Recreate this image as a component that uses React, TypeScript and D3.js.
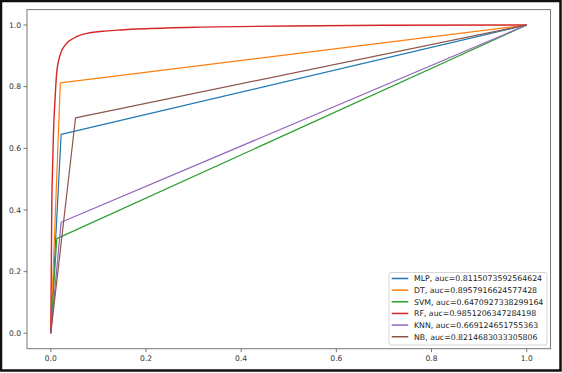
import React from "react";
import * as d3 from "d3";

const W = 562;
const H = 373;

const seriesNames = ["MLP", "DT", "SVM", "RF", "KNN", "NB"];
const aucLabels = [
  "0.8115073592564624",
  "0.8957916624577428",
  "0.6470927338299164",
  "0.9851206347284198",
  "0.669124651755363",
  "0.8214683033305806",
];
const colors = ["#1f77b4", "#ff7f0e", "#2ca02c", "#d62728", "#9467bd", "#8c564b"];

const mlpFpr = [0, 0.0217, 1];
const mlpTpr = [0, 0.645, 1];
const dtFpr = [0, 0.02, 1];
const dtTpr = [0, 0.812, 1];
const svmFpr = [0, 0.0126, 1];
const svmTpr = [0, 0.307, 1];
const rfFpr = [0, 0.001, 0.002, 0.004, 0.0055, 0.009, 0.0126, 0.0196, 0.03, 0.048, 0.076, 0.118, 0.146, 0.2, 0.314, 0.5, 0.7, 1];
const rfTpr = [0, 0.2, 0.4, 0.55, 0.643, 0.762, 0.849, 0.903, 0.935, 0.957, 0.973, 0.981, 0.984, 0.988, 0.993, 0.997, 0.999, 1];
const knnFpr = [0, 0.0217, 1];
const knnTpr = [0, 0.36, 1];
const nbFpr = [0, 0.052, 1];
const nbTpr = [0, 0.699, 1];

const fprs = [mlpFpr, dtFpr, svmFpr, rfFpr, knnFpr, nbFpr];
const tprs = [mlpTpr, dtTpr, svmTpr, rfTpr, knnTpr, nbTpr];

const ticks = [0, 0.2, 0.4, 0.6, 0.8, 1.0];

export default function App() {
  const x = d3.scaleLinear().domain([-0.05, 1.05]).range([27, 550.5]);
  const y = d3.scaleLinear().domain([-0.05, 1.05]).range([348.7, 9.6]);
  const line = d3
    .line<[number, number]>()
    .x((d) => x(d[0]))
    .y((d) => y(d[1]));
  const smooth = d3
    .line<[number, number]>()
    .x((d) => x(d[0]))
    .y((d) => y(d[1]))
    .curve(d3.curveMonotoneX);

  const font = "DejaVu Sans, sans-serif";
  const legX = 389;
  const legY = 272.5;
  return (
    <svg
      width={W}
      height={H}
      style={{ position: "absolute", left: 0, top: 0, background: "#fff" }}
      fontFamily={font}
    >
      <rect x={0} y={0} width={W} height={H} fill="#fff" />
      <rect x={1} y={1} width={559.5} height={369.5} fill="none" stroke="#111" strokeWidth={2.5} />
      {/* series */}
      {seriesNames.map((n, i) => {
        const pts = fprs[i].map((f, j) => [f, tprs[i][j]] as [number, number]);
        const gen = n === "RF" ? smooth : line;
        return (
          <path
            key={n}
            d={gen(pts) || ""}
            fill="none"
            stroke={colors[i]}
            strokeWidth={n === "RF" ? 1.4 : 1.2}
            strokeLinejoin="round"
          />
        );
      })}
      {/* axes frame */}
      <rect
        x={x(-0.05)}
        y={y(1.05)}
        width={x(1.05) - x(-0.05)}
        height={y(-0.05) - y(1.05)}
        fill="none"
        stroke="#777"
        strokeWidth={1}
      />
      {/* x ticks */}
      {ticks.map((t) => (
        <g key={"x" + t}>
          <line x1={x(t)} x2={x(t)} y1={y(-0.05)} y2={y(-0.05) + 3.5} stroke="#555" strokeWidth={0.8} />
          <text x={x(t)} y={y(-0.05) + 12} fontSize={7.6} textAnchor="middle" fill="#333">
            {t.toFixed(1)}
          </text>
        </g>
      ))}
      {/* y ticks */}
      {ticks.map((t) => (
        <g key={"y" + t}>
          <line x1={x(-0.05) - 3.5} x2={x(-0.05)} y1={y(t)} y2={y(t)} stroke="#555" strokeWidth={0.8} />
          <text x={x(-0.05) - 6} y={y(t) + 2.8} fontSize={7.6} textAnchor="end" fill="#333">
            {t.toFixed(1)}
          </text>
        </g>
      ))}
      {/* legend */}
      <rect
        x={legX}
        y={legY}
        width={158}
        height={72.5}
        rx={2}
        fill="#fff"
        fillOpacity={0.85}
        stroke="#ccc"
        strokeWidth={0.8}
      />
      {seriesNames.map((n, i) => {
        const cy = legY + 6 + i * 11.65;
        return (
          <g key={"l" + n}>
            <line x1={legX + 2.7} x2={legX + 19.3} y1={cy} y2={cy} stroke={colors[i]} strokeWidth={1.5} />
            <text x={legX + 25} y={cy + 2.8} fontSize={7.8} fill="#222">
              {`${n}, auc=${aucLabels[i]}`}
            </text>
          </g>
        );
      })}
    </svg>
  );
}
